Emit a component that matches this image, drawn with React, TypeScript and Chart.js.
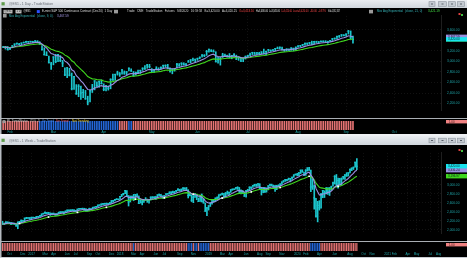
import React, { useEffect, useRef } from "react";
import { Chart, registerables } from "chart.js";
Chart.register(...registerables);

// ---------------- DAILY (top window): Jan 29 2020 .. Sep 4 2020 ----------------
const dayHigh = [
  3285, 3285, 3285, 3265, 3300, 3335, 3348, 3345, 3352, 3370,
  3383, 3382, 3385, 3380, 3395, 3395, 3375, 3300, 3260, 3185,
  3100, 2985, 3090, 3135, 3135, 3110, 3020, 2880, 2885, 2870,
  2780, 2715, 2560, 2560, 2530, 2470, 2450, 2340, 2450, 2565,
  2635, 2615, 2630, 2650, 2575, 2545, 2535, 2670, 2760, 2760,
  2815, 2790, 2845, 2820, 2810, 2880, 2860, 2810, 2800, 2835,
  2835, 2880, 2920, 2945, 2945, 2865, 2845, 2900, 2880, 2900,
  2930, 2935, 2945, 2880, 2855, 2865, 2965, 2960, 2975, 2975,
  2960, 3020, 3035, 3065, 3045, 3065, 3085, 3130, 3130, 3210,
  3235, 3225, 3220, 3185, 3080, 3075, 3155, 3140, 3120, 3150,
  3115, 3150, 3120, 3085, 3080, 3055, 3105, 3120, 3160, 3175,
  3175, 3170, 3175, 3185, 3235, 3195, 3230, 3220, 3225, 3250,
  3275, 3275, 3275, 3230, 3240, 3240, 3260, 3255, 3275, 3300,
  3305, 3325, 3350, 3350, 3360, 3385, 3380, 3385, 3380, 3390,
  3390, 3395, 3385, 3400, 3435, 3445, 3480, 3495, 3510, 3510,
  3525, 3590, 3580, 3480,
];
const dayLow = [
  3265, 3235, 3215, 3225, 3260, 3300, 3325, 3318, 3312, 3348,
  3358, 3360, 3368, 3355, 3370, 3355, 3325, 3215, 3120, 3110,
  2970, 2850, 2935, 2975, 2995, 2995, 2900, 2730, 2690, 2725,
  2460, 2470, 2375, 2330, 2280, 2310, 2280, 2175, 2230, 2410,
  2460, 2520, 2510, 2570, 2445, 2440, 2455, 2480, 2640, 2640,
  2740, 2715, 2760, 2755, 2750, 2820, 2810, 2720, 2740, 2770,
  2770, 2830, 2850, 2870, 2880, 2800, 2790, 2840, 2835, 2855,
  2880, 2895, 2865, 2795, 2765, 2815, 2880, 2910, 2925, 2930,
  2915, 2985, 2975, 3010, 2990, 3020, 3050, 3080, 3090, 3115,
  3175, 3185, 3180, 2990, 2965, 2930, 3075, 3100, 3080, 3070,
  3050, 3100, 3035, 3020, 3000, 2995, 3045, 3080, 3110, 3130,
  3135, 3130, 3125, 3140, 3145, 3125, 3190, 3190, 3205, 3205,
  3240, 3240, 3220, 3190, 3200, 3210, 3210, 3200, 3210, 3270,
  3280, 3300, 3310, 3320, 3330, 3320, 3330, 3360, 3355, 3370,
  3370, 3360, 3345, 3375, 3400, 3420, 3435, 3455, 3475, 3485,
  3480, 3520, 3425, 3345,
];
const dayClose = [
  3270, 3280, 3225, 3245, 3295, 3330, 3345, 3325, 3350, 3358,
  3380, 3375, 3380, 3370, 3388, 3375, 3335, 3225, 3130, 3115,
  2975, 2950, 3085, 3000, 3130, 3020, 2970, 2745, 2880, 2740,
  2480, 2710, 2385, 2530, 2400, 2410, 2290, 2230, 2440, 2475,
  2630, 2540, 2620, 2580, 2470, 2530, 2490, 2660, 2650, 2750,
  2780, 2760, 2840, 2780, 2800, 2870, 2820, 2730, 2790, 2790,
  2830, 2870, 2860, 2930, 2900, 2820, 2840, 2860, 2840, 2880,
  2925, 2925, 2870, 2820, 2850, 2860, 2945, 2915, 2965, 2945,
  2950, 2990, 3030, 3025, 3040, 3055, 3080, 3120, 3110, 3190,
  3230, 3200, 3185, 2995, 3030, 3060, 3120, 3110, 3110, 3080,
  3110, 3125, 3045, 3080, 3005, 3050, 3090, 3110, 3125, 3170,
  3140, 3165, 3150, 3180, 3150, 3190, 3220, 3210, 3220, 3245,
  3250, 3270, 3235, 3215, 3235, 3215, 3255, 3245, 3270, 3290,
  3300, 3320, 3345, 3345, 3355, 3330, 3375, 3370, 3370, 3380,
  3385, 3370, 3380, 3395, 3430, 3440, 3475, 3480, 3505, 3495,
  3520, 3575, 3450, 3420,
];
// trend-status histogram (R = red / B = blue), run-length listed
const dayTrendRuns: [string, number][] = [["R", 16], ["B", 35], ["R", 4], ["B", 2], ["R", 97]];
const dayTickIdx = [3, 22, 44, 65, 85, 107, 129, 150, 171];
const dayTickLabels = ["Feb", "Mar", "Apr", "May", "Jun", "Jul", "Aug", "Sep", "Oct"];
const dayPriceTicks = [2200, 2400, 2600, 2800, 3000, 3200, 3400, 3600];

// ---------------- WEEKLY (bottom window): week of Sep 5 2016 .. Aug 31 2020 ----------------
const wkHigh = [
  2185, 2150, 2180, 2175, 2170, 2165, 2155, 2150, 2130, 2175, 2188, 2215, 2212, 2260, 2278, 2272, 2275,
  2280, 2282, 2278, 2300, 2300, 2318, 2352, 2368, 2401, 2385, 2390, 2378, 2370, 2375, 2360, 2360, 2395,
  2400, 2405, 2405, 2418, 2440, 2445, 2448, 2450, 2450, 2435, 2462, 2475, 2480, 2482, 2480, 2470, 2450,
  2478, 2472, 2502, 2510, 2520, 2550, 2556, 2576, 2584, 2590, 2598, 2590, 2605, 2655, 2655, 2680, 2695, 2690,
  2745, 2790, 2815, 2878, 2875, 2765, 2755, 2750, 2790, 2790, 2805, 2755, 2670, 2675, 2680, 2718, 2685,
  2680, 2735, 2742, 2740, 2740, 2780, 2800, 2790, 2760, 2765, 2805, 2810, 2850, 2845, 2865, 2855, 2880,
  2918, 2905, 2910, 2940, 2940, 2945, 2895, 2820, 2780, 2765, 2815, 2790, 2710, 2765, 2800, 2690, 2600, 2500,
  2540, 2600, 2675, 2670, 2710, 2735, 2778, 2795, 2820, 2815, 2830, 2865, 2840, 2895, 2910, 2915, 2942,
  2960, 2945, 2890, 2875, 2830, 2875, 2905, 2960, 2960, 2995, 3015, 3020, 3030, 3030, 2945, 2945, 2945,
  2935, 2985, 3020, 3020, 3000, 2990, 2995, 3005, 3025, 3070, 3098, 3122, 3125, 3155, 3150, 3185, 3228, 3245,
  3262, 3285, 3335, 3340, 3290, 3345, 3385, 3395, 3335, 3135, 2995, 2700, 2635, 2650, 2815, 2880, 2870,
  2945, 2935, 2945, 2975, 3065, 3210, 3235, 3155, 3150, 3160, 3190, 3235, 3275, 3275, 3355, 3385, 3400, 3510, 3590,
];
const wkLow = [
  2120, 2115, 2135, 2140, 2145, 2115, 2125, 2120, 2080, 2025, 2150, 2180, 2185, 2190, 2245, 2255, 2232,
  2240, 2260, 2255, 2265, 2268, 2290, 2310, 2345, 2360, 2360, 2360, 2320, 2330, 2345, 2325, 2320, 2355,
  2375, 2385, 2345, 2380, 2405, 2420, 2415, 2425, 2405, 2405, 2420, 2455, 2460, 2465, 2435, 2415, 2415,
  2430, 2450, 2465, 2490, 2495, 2515, 2540, 2545, 2560, 2565, 2565, 2560, 2580, 2595, 2620, 2645, 2670, 2670,
  2680, 2740, 2775, 2805, 2755, 2530, 2620, 2690, 2650, 2680, 2745, 2585, 2595, 2555, 2610, 2660, 2612,
  2595, 2665, 2705, 2705, 2676, 2735, 2760, 2745, 2700, 2700, 2770, 2790, 2800, 2800, 2825, 2805, 2845,
  2875, 2865, 2865, 2895, 2905, 2875, 2710, 2755, 2630, 2605, 2720, 2670, 2630, 2630, 2620, 2595, 2410, 2316,
  2440, 2520, 2570, 2615, 2630, 2680, 2700, 2765, 2780, 2730, 2745, 2795, 2780, 2835, 2880, 2895, 2905,
  2900, 2830, 2800, 2815, 2745, 2725, 2870, 2885, 2910, 2945, 2970, 2970, 2975, 2915, 2775, 2830, 2835,
  2840, 2890, 2975, 2985, 2945, 2855, 2895, 2960, 2985, 3015, 3060, 3080, 3090, 3110, 3070, 3125, 3170, 3220,
  3205, 3210, 3255, 3285, 3210, 3215, 3310, 3325, 2850, 2900, 2460, 2280, 2175, 2440, 2480, 2715, 2720,
  2800, 2790, 2765, 2880, 2975, 3020, 2965, 2930, 3000, 2995, 3130, 3125, 3190, 3200, 3270, 3320, 3345, 3400, 3345,
];
const wkClose = [
  2128, 2139, 2164, 2168, 2153, 2132, 2141, 2126, 2085, 2164, 2182, 2213, 2192, 2259, 2258, 2263, 2239,
  2277, 2275, 2271, 2295, 2297, 2316, 2351, 2367, 2383, 2372, 2378, 2344, 2363, 2355, 2329, 2349, 2384,
  2399, 2390, 2382, 2416, 2439, 2432, 2433, 2438, 2423, 2425, 2459, 2472, 2472, 2476, 2441, 2426, 2443,
  2477, 2461, 2500, 2502, 2519, 2549, 2553, 2575, 2581, 2587, 2582, 2578, 2602, 2642, 2652, 2675, 2683, 2674,
  2743, 2786, 2810, 2873, 2762, 2620, 2732, 2747, 2691, 2786, 2752, 2588, 2641, 2604, 2656, 2670, 2670,
  2663, 2728, 2713, 2721, 2735, 2779, 2780, 2755, 2718, 2760, 2801, 2802, 2819, 2840, 2833, 2850, 2875,
  2902, 2872, 2905, 2930, 2914, 2885, 2767, 2768, 2658, 2723, 2781, 2736, 2633, 2760, 2633, 2600, 2417, 2486,
  2532, 2596, 2671, 2665, 2707, 2708, 2776, 2793, 2804, 2743, 2822, 2800, 2834, 2893, 2907, 2905, 2940,
  2946, 2881, 2860, 2826, 2752, 2873, 2887, 2950, 2942, 2990, 3014, 2977, 3026, 2932, 2919, 2889, 2847,
  2926, 2979, 3007, 2992, 2962, 2952, 2970, 2986, 3023, 3067, 3093, 3120, 3110, 3141, 3146, 3169, 3221, 3240,
  3235, 3265, 3330, 3295, 3225, 3328, 3380, 3338, 2954, 2972, 2711, 2305, 2541, 2489, 2790, 2875, 2836,
  2830, 2930, 2863, 2955, 3044, 3193, 3041, 3097, 3009, 3130, 3185, 3224, 3216, 3271, 3351, 3372, 3397, 3508, 3420,
];
const wkTrendRuns: [string, number][] = [
  ["R", 77], ["B", 1], ["R", 31], ["B", 3], ["R", 1], ["B", 2], ["R", 1], ["B", 6], ["R", 59], ["B", 6], ["R", 22],
];
const wkMarkerIdx = [10, 27, 44, 61, 78, 95, 112, 129, 146, 163, 180, 197];
const wkTickIdx = [4, 12, 17, 25, 30, 38, 43, 51, 56, 64, 69, 77, 82, 90, 95, 104, 112, 121, 129, 134, 143, 151, 156, 164, 173, 178, 186, 195, 204, 212, 217, 226, 230, 238, 243, 251, 256];
const wkTickLabels = ["Oct", "Dec", "2017", "Mar", "Apr", "Jun", "Jul", "Sep", "Oct", "Dec", "2018", "Mar", "Apr", "Jun", "Jul", "Sep", "Nov", "2019", "Mar", "Apr", "Jun", "Aug", "Sep", "Nov", "2020", "Feb", "Apr", "Jun", "Aug", "Oct", "Nov", "2021", "Feb", "Apr", "May", "Jul", "Aug"];
const wkPriceTicks = [2000, 2200, 2400, 2600, 2800, 3000, 3200, 3400];

// ---------------- styling ----------------
const FONT = "'Liberation Sans', Arial, sans-serif";
const CYAN = "#1cc6ce";
const PURPLE = "#9b8fe2";
const GREEN = "#3fd61e";
const TEAL_TXT = "#1fa4a8";
const RED_BAR = "#e67474";
const BLUE_BAR = "#2467d8";
const GRID = "rgba(255,255,255,0.07)";
const AXIS_W = 26;

// Mov Avg Exponential (close, n) — the chart's own indicator derived from the closes
function ema(src: number[], period: number): number[] {
  const k = 2 / (period + 1);
  const out: number[] = [];
  src.forEach((v, i) => out.push(i === 0 ? v : out[i - 1] + k * (v - out[i - 1])));
  return out;
}
function expandRuns(runs: [string, number][]): string[] {
  const out: string[] = [];
  runs.forEach(([c, n]) => { for (let i = 0; i < n; i++) out.push(c); });
  return out;
}
const fmt = (v: number) => v.toLocaleString("en-US", { minimumFractionDigits: 2, maximumFractionDigits: 2 });

function priceChart(canvas: HTMLCanvasElement, p: any) {
  const e9 = ema(p.close, 9);
  const e21 = ema(p.close, 21);
  const last = p.close.length - 1;
  const datasets: any[] = [
    { type: "bar", data: p.high.map((h: number, i: number) => ({ x: i, y: [p.low[i], h] })), backgroundColor: CYAN, barThickness: 1, order: 6 },
    { type: "scatter", data: p.close.map((c: number, i: number) => ({ x: i, y: c })), pointStyle: "line", pointRadius: 1, borderColor: CYAN, borderWidth: 1, order: 5 },
    { type: "line", data: e21.map((v, i) => ({ x: i, y: v })), borderColor: GREEN, borderWidth: 1.1, pointRadius: 0, tension: 0, order: 3 },
    { type: "line", data: e9.map((v, i) => ({ x: i, y: v })), borderColor: PURPLE, borderWidth: 1.1, pointRadius: 0, tension: 0, order: 2 },
  ];
  if (p.markers) {
    datasets.push({ type: "scatter", data: p.markers.map((w: number) => ({ x: w, y: e21[w] })), pointStyle: "rect", pointRadius: 1.2, backgroundColor: "#ffffff", borderWidth: 0, order: 1 });
  }
  const decor = {
    id: "decor",
    afterDraw(chart: any) {
      const c: CanvasRenderingContext2D = chart.ctx;
      const ys = chart.scales.y;
      c.save();
      const boxes = [
        { v: e21[last], bg: GREEN },
        { v: e9[last], bg: PURPLE },
        { v: p.close[last], bg: "#19e4ee" },
      ];
      boxes.forEach((b) => {
        const py = ys.getPixelForValue(b.v);
        c.fillStyle = b.bg;
        c.fillRect(446, py - 2.2, 21, 4.4);
        c.fillStyle = "#0a1620";
        c.font = `3px ${FONT}`;
        c.textBaseline = "middle";
        c.fillText(fmt(b.v), 448, py + 0.2, 13);
      });
      // small corner icon
      c.fillStyle = "#e04040"; c.fillRect(458.5, p.iconY, 2, 2);
      c.fillStyle = "#40c040"; c.fillRect(461, p.iconY + 1, 2, 2);
      if (p.info) {
        const prev = p.close[last - 1];
        const chg = p.close[last] - prev;
        c.font = `3px ${FONT}`;
        c.textBaseline = "middle";
        const box = (x: number, y: number, w: number, h: number, col: string) => { c.fillStyle = col; c.fillRect(x, y, w, h); };
        const t = (s: string, x: number, y: number, col: string, mw: number) => { c.fillStyle = col; c.fillText(s, x, y, mw); };
        const y1 = 3.6, y2 = 7.7;
        box(3.5, 1.8, 9, 3.6, "#bdbdbd"); t("@ES1", 4.6, y1, "#202020", 7);
        box(15.5, 1.8, 6, 3.6, "#bdbdbd"); t("1 D", 16.4, y1, "#202020", 4.4);
        t("@ES1", 23.5, y1, "#e4e4e4", 7);
        box(36.8, 2.1, 3, 3, "#2b50ff");
        t("E-mini S&P 500 Continuous Contract (Dec20)  1 Day", 42, y1, "#dcdcdc", 71);
        box(114, 1.8, 4, 3.6, "#9a9a9a");
        t("Trade   CME   TradeStation   Futures   9/4/2020   16:59:58   B=3,420.00   A=3,420.25", 127, y1, "#dcdcdc", 110);
        t("O=3,453.50", 239, y1, "#ff4848", 15);
        t("H=" + fmt(p.high[last]), 256, y1, "#e4e4e4", 12);
        t("L=" + fmt(p.low[last]), 269, y1, "#e4e4e4", 11);
        t("C=" + fmt(p.close[last]), 281, y1, "#ff4848", 11);
        t("Last=" + fmt(p.close[last]) + "  " + chg.toFixed(2) + "  " + ((chg / prev) * 100).toFixed(2) + "%", 293, y1, "#ff4848", 33);
        t("Vol=1,912,357", 328, y1, "#e4e4e4", 12);
        box(369, 1.8, 4, 3.6, "#9a9a9a");
        t("Mov Avg Exponential", 377, y1, "#37b4b8", 26);
        t("(close, 21, 0)", 405, y1, "#37b4b8", 18);
        t(fmt(e21[last]), 428, y1, "#44e044", 12);
        box(3, 5.9, 3.6, 3.6, "#9a9a9a");
        t("Mov Avg Exponential", 9, y2, "#37b4b8", 26);
        t("(close, 9, 0)", 37, y2, "#37b4b8", 17);
        t(fmt(e9[last]), 57, y2, "#a79ce8", 14);
      }
      c.restore();
    },
  };
  return new Chart(canvas, {
    type: "bar",
    data: { datasets },
    plugins: [decor],
    options: {
      animation: false,
      responsive: false,
      devicePixelRatio: 1,
      events: [],
      layout: { padding: { left: 2, right: 0, top: 0, bottom: 0 }, autoPadding: false },
      plugins: { legend: { display: false }, tooltip: { enabled: false } },
      scales: {
        x: {
          type: "linear", min: p.xMin, max: p.xMax, offset: false, bounds: "data",
          afterBuildTicks: (s: any) => { s.ticks = p.xTicks.map((v: number) => ({ value: v })); },
          afterFit: (s: any) => { s.height = 0; },
          ticks: { display: false },
          grid: { color: GRID, drawTicks: false, offset: false },
          border: { display: false, dash: [1, 2] },
        },
        y: {
          type: "linear", position: "right", min: p.yMin, max: p.yMax, bounds: "data",
          afterBuildTicks: (s: any) => { s.ticks = p.yTicks.map((v: number) => ({ value: v })); },
          afterFit: (s: any) => { s.width = AXIS_W; },
          ticks: { color: TEAL_TXT, font: { size: 3.2, family: FONT }, padding: 6, callback: (v: any) => fmt(Number(v)) },
          grid: { color: GRID, drawTicks: false },
          border: { display: true, color: "#1e1e1e", dash: [1, 2] },
        },
      },
    } as any,
  });
}

function indicatorChart(canvas: HTMLCanvasElement, p: any) {
  const trend = expandRuns(p.runs);
  const decor = {
    id: "inddecor",
    afterDraw(chart: any) {
      const c: CanvasRenderingContext2D = chart.ctx;
      c.save();
      c.fillStyle = "#f08282";
      c.fillRect(446, 1, 21, 3.4);
      c.fillStyle = "#301010";
      c.font = `2.8px ${FONT}`;
      c.textBaseline = "middle";
      c.fillText("1.00", 449, 2.8, 8);
      if (p.text) {
        const y = 2.6;
        c.font = `3px ${FONT}`;
        c.fillStyle = "#9a9a9a"; c.fillRect(2.5, 1.1, 3, 3);
        c.fillStyle = "#d0d0d0"; c.fillText("RL TrendStatus", 7, y, 22);
        c.fillStyle = "#b8b8b8"; c.fillText("(15%, 2)", 30, y, 10);
        c.fillStyle = "#4a90ff"; c.fillText("Up Trend", 42, y, 12);
        c.fillStyle = "#ff5a5a"; c.fillText("Dn Trend", 56, y, 13);
        c.fillStyle = "#e8c420"; c.fillText("Not Trending", 72, y, 17);
      }
      c.restore();
    },
  };
  return new Chart(canvas, {
    type: "bar",
    data: {
      datasets: [{
        data: trend.map((_, i) => ({ x: i, y: [0, 1] })),
        backgroundColor: trend.map((t) => (t === "B" ? BLUE_BAR : RED_BAR)),
        barPercentage: 0.72, categoryPercentage: 1,
      }],
    },
    plugins: [decor],
    options: {
      animation: false,
      responsive: false,
      devicePixelRatio: 1,
      events: [],
      layout: { padding: { left: 2, right: 0, top: p.padTop, bottom: 0 }, autoPadding: false },
      plugins: { legend: { display: false }, tooltip: { enabled: false } },
      scales: {
        x: {
          type: "linear", min: p.xMin, max: p.xMax, offset: false, bounds: "data",
          afterBuildTicks: (s: any) => { s.ticks = p.xTicks.map((v: number) => ({ value: v })); },
          afterFit: (s: any) => { s.height = p.axisH; },
          ticks: { color: TEAL_TXT, font: { size: 3, family: FONT }, padding: p.labelPad, autoSkip: false, maxRotation: 0, callback: (_v: any, i: number) => p.xLabels[i] },
          grid: { display: false, drawTicks: false, offset: false },
          border: { display: false },
        },
        y: {
          min: 0, max: 1, position: "right",
          afterFit: (s: any) => { s.width = AXIS_W; },
          ticks: { display: false },
          grid: { display: false, drawTicks: false },
          border: { display: false },
        },
      },
    } as any,
  });
}

function drawChrome(cv: HTMLCanvasElement) {
  const c = cv.getContext("2d")!;
  c.clearRect(0, 0, 467, 258);
  const bar = (y0: number, h: number, title: string) => {
    const g = c.createLinearGradient(0, y0, 0, y0 + h);
    g.addColorStop(0, "#eaedf1");
    g.addColorStop(1, "#d0d6dd");
    c.fillStyle = g;
    c.fillRect(0, y0, 467, h);
    c.fillStyle = "#5e9c4c";
    c.fillRect(1.5, y0 + h / 2 - 1.8, 3.2, 3.2);
    c.fillStyle = "#6a7078";
    c.font = `3.4px ${FONT}`;
    c.textBaseline = "middle";
    c.fillText(title, 9, y0 + h / 2 + 0.3, 48);
    [[429, 6], [438.5, 8], [448.5, 7], [457.5, 7]].forEach(([x, w]) => {
      c.fillStyle = "#c4cad1";
      c.fillRect(x, y0 + h / 2 - 2.3, w, 4.6);
      c.strokeStyle = "#8d949d";
      c.lineWidth = 0.6;
      c.strokeRect(x, y0 + h / 2 - 2.3, w, 4.6);
      c.fillStyle = "#59606a";
      c.fillRect(x + w / 2 - 1, y0 + h / 2 - 0.5, 2, 1);
    });
  };
  bar(0, 8, "@ES1 - 1 Day - TradeStation");
  c.fillStyle = "#eff1f4";
  c.fillRect(0, 134, 467, 2);
  bar(136, 9, "@ES1 - 1 Week - TradeStation");
  c.fillStyle = "#a9aeb3";
  c.fillRect(0, 118, 467, 1);
  c.fillRect(0, 241, 467, 1);
  c.fillStyle = "#b6bbc1";
  c.fillRect(0, 8, 1.5, 126);
  c.fillRect(0, 145, 1.5, 112);
  c.fillStyle = "#c8cdd3";
  c.fillRect(0, 257, 467, 1);
}

export default function App() {
  const chromeRef = useRef<HTMLCanvasElement>(null);
  const topPriceRef = useRef<HTMLCanvasElement>(null);
  const topIndRef = useRef<HTMLCanvasElement>(null);
  const botPriceRef = useRef<HTMLCanvasElement>(null);
  const botIndRef = useRef<HTMLCanvasElement>(null);

  useEffect(() => {
    const charts: Chart[] = [];
    const dayX = { xMin: -0.5, xMax: 191.5 };
    const wkX = { xMin: -0.3, xMax: 257.4 };
    charts.push(priceChart(topPriceRef.current!, {
      high: dayHigh, low: dayLow, close: dayClose, ...dayX,
      yMin: 2076, yMax: 3865, yTicks: dayPriceTicks, xTicks: dayTickIdx, info: true, iconY: 5,
    }));
    charts.push(indicatorChart(topIndRef.current!, {
      runs: dayTrendRuns, ...dayX, xTicks: dayTickIdx, xLabels: dayTickLabels, padTop: 2, axisH: 4, labelPad: 0.5, text: true,
    }));
    charts.push(priceChart(botPriceRef.current!, {
      high: wkHigh, low: wkLow, close: wkClose, ...wkX,
      yMin: 1925, yMax: 3717, yTicks: wkPriceTicks, xTicks: wkTickIdx, markers: wkMarkerIdx, info: false, iconY: 4,
    }));
    charts.push(indicatorChart(botIndRef.current!, {
      runs: wkTrendRuns, ...wkX, xTicks: wkTickIdx, xLabels: wkTickLabels, padTop: 1, axisH: 6, labelPad: 1.5, text: false,
    }));
    drawChrome(chromeRef.current!);
    return () => charts.forEach((c) => c.destroy());
  }, []);

  const cs = (top: number, h: number): React.CSSProperties => ({
    position: "absolute", left: 0, top, width: 467, height: h, background: "#000", display: "block",
  });
  return (
    <div style={{ position: "fixed", left: 0, top: 0, width: 467, height: 258, background: "#000", overflow: "hidden" }}>
      <canvas ref={topPriceRef} width={467} height={110} style={cs(8, 110)} />
      <canvas ref={topIndRef} width={467} height={15} style={cs(119, 15)} />
      <canvas ref={botPriceRef} width={467} height={96} style={cs(145, 96)} />
      <canvas ref={botIndRef} width={467} height={15} style={cs(242, 15)} />
      <canvas ref={chromeRef} width={467} height={258} style={{ position: "absolute", left: 0, top: 0, width: 467, height: 258, pointerEvents: "none" }} />
    </div>
  );
}
